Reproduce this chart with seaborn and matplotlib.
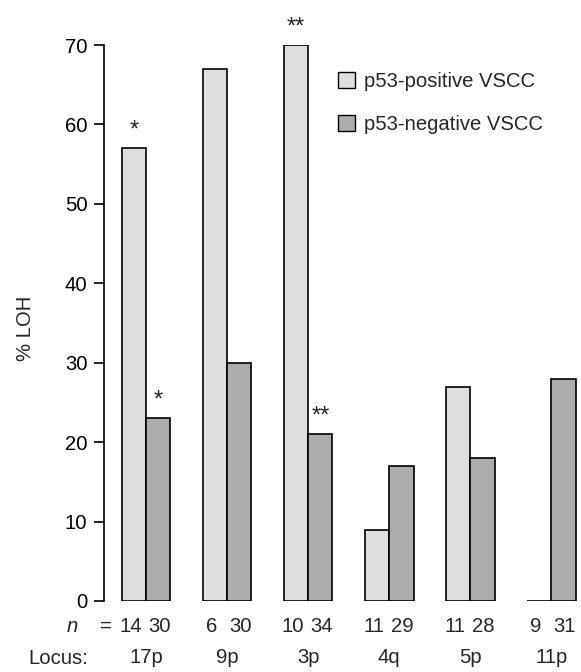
import seaborn as sns
import matplotlib.pyplot as plt
from matplotlib.patches import Patch
import pandas as pd

loci = ["17p", "9p", "3p", "4q", "5p", "11p"]
pos_loh = [57, 67, 70, 9, 27, 0]
neg_loh = [23, 30, 21, 17, 18, 28]
pos_n = [14, 6, 10, 11, 11, 9]
neg_n = [30, 30, 34, 29, 28, 31]
pos_star = ["*", "", "**", "", "", ""]
neg_star = ["*", "", "**", "", "", ""]
groups = ["p53-positive VSCC", "p53-negative VSCC"]

df = pd.DataFrame({
    "locus": loci * 2,
    "loh": pos_loh + neg_loh,
    "group": [groups[0]] * len(loci) + [groups[1]] * len(loci),
})

sns.set_style("ticks")
plt.rcParams['font.family'] = ['Liberation Sans', 'DejaVu Sans']
fs = 14.6

light, dark = "#dedede", "#adadad"

fig = plt.figure(figsize=(5.81, 6.72), dpi=100)
ax = fig.add_axes([104 / 581, 1 - 601 / 672, 474 / 581, 556 / 672])

sns.barplot(data=df, x="locus", y="loh", hue="group", hue_order=groups,
            palette=[light, dark], width=0.6, gap=0, edgecolor="black",
            linewidth=1.2, legend=False, ax=ax)

ax.set_ylim(0, 70)
ax.set_xlim(-0.52, 5.33)
ax.set_yticks(range(0, 71, 10))
ax.tick_params(axis="y", length=7, width=1.2, labelsize=fs, pad=5, colors="black")
for s in ["top", "right", "bottom"]:
    ax.spines[s].set_visible(False)
ax.spines["left"].set_linewidth(1.2)
ax.spines["left"].set_color("black")

ax.set_xticks(range(len(loci)))
ax.set_xticklabels(loci, fontsize=fs)
ax.tick_params(axis="x", length=0, pad=34)
ax.set_xlabel("")
ax.set_ylabel("% LOH", fontsize=fs)
ax.yaxis.set_label_coords(-0.145, 0.49)

tr = ax.get_xaxis_transform()
for i in range(len(loci)):
    ax.text(i - 0.19, -0.045, str(pos_n[i]), transform=tr, ha="center", va="center", fontsize=fs)
    ax.text(i + 0.16, -0.045, str(neg_n[i]), transform=tr, ha="center", va="center", fontsize=fs)
    if pos_star[i]:
        ax.text(i - 0.15, pos_loh[i] + 1.5, pos_star[i], ha="center", va="baseline",
                fontsize=17, clip_on=False)
    if neg_star[i]:
        ax.text(i + 0.15, neg_loh[i] + 1.5, neg_star[i], ha="center", va="baseline",
                fontsize=17, clip_on=False)

ax.text(-0.5, -0.045, "=", transform=tr, ha="center", va="center", fontsize=fs)
ax.text(-0.91, -0.045, "n", transform=tr, ha="center", va="center", fontsize=fs, style="italic")
ax.text(-1.09, -0.104, "Locus:", transform=tr, ha="center", va="center", fontsize=fs)

handles = [Patch(facecolor=light, edgecolor="black", linewidth=1.0),
           Patch(facecolor=dark, edgecolor="black", linewidth=1.0)]
ax.legend(handles, groups, frameon=False, loc="upper left",
          bbox_to_anchor=(0.455, 0.985), handlelength=0.85, handleheight=0.85,
          handletextpad=0.45, labelspacing=1.2, fontsize=fs)

fig.savefig("out.png", dpi=100)
